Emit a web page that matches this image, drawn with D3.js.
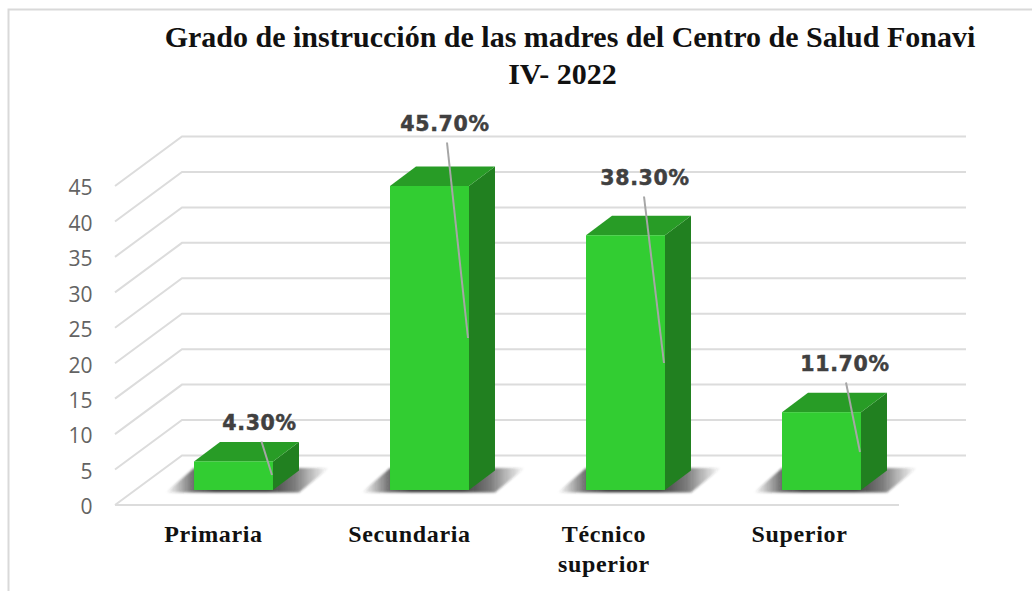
<!DOCTYPE html>
<html><head><meta charset="utf-8">
<script src="https://cdn.jsdelivr.net/npm/d3@7/dist/d3.min.js"></script>
<style>html,body{margin:0;padding:0;background:#fff}svg{display:block}</style>
</head><body><div id="c"></div>
<script>
const categories = [["Primaria"],["Secundaria"],["Técnico","superior"],["Superior"]];
const values = [4.3,45.7,38.3,11.7];
const valueLabels = ["4.30%","45.70%","38.30%","11.70%"];
const ticks = [0,5,10,15,20,25,30,35,40,45];
const titleLines = ["Grado de instrucción de las madres del Centro de Salud Fonavi","IV- 2022"];
// layout only
const titleX = [570,562.5];
const labelOffset = [26,15.5,19.5,23.5];
const labelY = [422,123,177,363];
const leaderEndY = [475,338,363,452];
const leaderStartX = [28,17.5,18.5,24.5];
const leaderEndX = [38.5,38.5,38.5,38.5];
const catOffset = [-20,-20,-21.5,-22];

const W=1032,H=591;
const svg=d3.select("#c").append("svg").attr("width",W).attr("height",H);
const defs=svg.append("defs");
const grad=defs.append("linearGradient").attr("id","sh").attr("x1",0).attr("x2",1).attr("y1",0).attr("y2",0);
[[0,0],[0.17,0.7],[0.3,0.9],[0.62,0.9],[0.78,0.65],[1,0]].forEach(([o,a])=>grad.append("stop").attr("offset",o).attr("stop-color","#2e2e2e").attr("stop-opacity",a));
defs.append("filter").attr("id","bl").attr("x","-10%").attr("y","-20%").attr("width","120%").attr("height","140%").append("feGaussianBlur").attr("stdDeviation",1);

// frame
svg.append("path").attr("d",`M8.5 591V9.5H1032`).attr("fill","none").attr("stroke","#d9d9d9").attr("stroke-width",2);

// title
const title=svg.append("text").attr("text-anchor","middle").attr("font-family","Liberation Serif").attr("font-weight","bold").attr("font-size",30).attr("fill","#111");
titleLines.forEach((t,i)=>title.append("tspan").attr("x",titleX[i]).attr("y",47+i*37).text(t));

// scales
const yFront=d3.scaleLinear().domain([0,45]).range([505,186]);
const depth={dx:67,dy:49.5};
const backRight=966, frontRight=899, frontLeft=115;
const yBar=d3.scaleLinear().domain([0,45.7]).range([490,186]);
const x=d3.scaleBand().domain(categories.map(c=>c.join(" "))).range([135.5,919.5]).paddingInner(0.597).paddingOuter(0.2985);

// grid
const grid=svg.append("g").attr("fill","none").attr("stroke","#dcdcdc").attr("stroke-width",2);
ticks.forEach(t=>{
  const f=yFront(t),b=f-depth.dy;
  grid.append("path").attr("d",`M${frontLeft} ${f}L${frontLeft+depth.dx} ${b}H${backRight}`);
});
grid.append("path").attr("d",`M${frontLeft} ${yFront(0)}H${frontRight}`);

// axis labels
const axis=d3.axisLeft(yFront).tickValues(ticks).tickSize(0).tickPadding(0);
const ag=svg.append("g").attr("transform","translate(92.5,0)").call(axis);
ag.select(".domain").remove();
ag.selectAll("text").attr("font-family","Open Sans").attr("font-size",21).attr("fill","#636363").attr("dy","0.42em");

// bars
const bd={dx:26,dy:19.5};
const bars=svg.append("g");
values.forEach((v,i)=>{
  const x0=x(categories[i].join(" ")),w=x.bandwidth(),x1=x0+w,y0=yBar(0),yt=yBar(v);
  bars.append("polygon").attr("points",[[x0-28,y0+2.5],[x1+26,y0+2.5],[x1+56,y0-22],[x0,y0-22]].join(" ")).attr("fill","url(#sh)").attr("filter","url(#bl)");
  bars.append("polygon").attr("points",[[x1,y0],[x1+bd.dx,y0-bd.dy],[x1+bd.dx,yt-bd.dy],[x1,yt]].join(" ")).attr("fill","#218020");
  bars.append("polygon").attr("points",[[x0,yt],[x0+bd.dx,yt-bd.dy],[x1+bd.dx,yt-bd.dy],[x1,yt]].join(" ")).attr("fill","#289c26");
  bars.append("rect").attr("x",x0).attr("y",yt).attr("width",w).attr("height",y0-yt).attr("fill","#32cd32");
});

// leaders and labels
const lab=svg.append("g");
values.forEach((v,i)=>{
  const x0=x(categories[i].join(" ")),c=x0+x.bandwidth()/2;
  lab.append("line").attr("x1",c+leaderStartX[i]).attr("y1",labelY[i]+19.5).attr("x2",c+leaderEndX[i]).attr("y2",leaderEndY[i]).attr("stroke","#a6a6a6").attr("stroke-width",2);
  lab.append("text").attr("x",c+labelOffset[i]).attr("y",labelY[i]+7.5).attr("text-anchor","middle").attr("font-family","DejaVu Sans").attr("font-weight","bold").attr("font-size",20.5).attr("letter-spacing",0.7).attr("fill","#404040").attr("stroke","#404040").attr("stroke-width",0.5).text(valueLabels[i]);
  const t=svg.append("text").attr("text-anchor","middle").attr("font-family","Liberation Serif").attr("font-weight","bold").attr("font-size",24).attr("letter-spacing",0.65).attr("fill","#111");
  categories[i].forEach((s,j)=>t.append("tspan").attr("x",c+catOffset[i]).attr("y",542+j*30).text(s));
});
</script></body></html>
